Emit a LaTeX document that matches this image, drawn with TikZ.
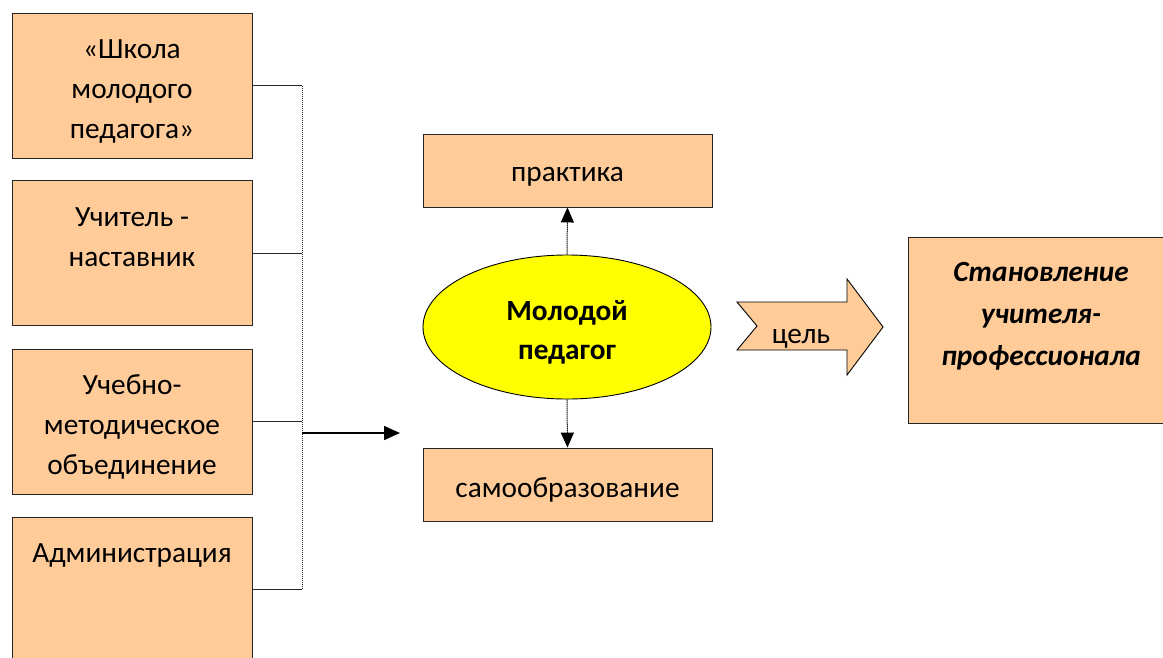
\documentclass[tikz,border=0pt]{standalone}
\usepackage{fontspec}
\setmainfont{Carlito}
\usetikzlibrary{arrows.meta,shapes.geometric,calc}
\definecolor{peach}{HTML}{FFCC99}
\definecolor{yel}{HTML}{FFFF00}
\tikzset{
  box/.style={draw=black!85, line width=0.9pt, fill=peach, rectangle, inner sep=0pt},
  txt/.style={inner sep=0pt, align=center, anchor=north, font=\fontsize{29.3}{40}\selectfont},
  conn/.style={draw=black!85, line width=1pt, dash pattern=on 1.5pt off 0.5pt},
  smallarrow/.style={draw=black!85, line width=1pt, dash pattern=on 1.5pt off 0.5pt, -{Triangle[width=13pt,length=15pt,color=black]}},
  mainarrow/.style={draw=black, line width=1.6pt, -{Triangle[width=14pt,length=16pt]}}
}
\newcommand{\fl}{\rule{0pt}{20pt}}
\begin{document}
\begin{tikzpicture}[x=1pt,y=-1pt]
\useasboundingbox (0,0) rectangle (1163,657);
% left boxes
\node[box, minimum width=240pt, minimum height=145pt] (b1) at (132,85.5) {};
\node[box, minimum width=240pt, minimum height=145pt] (b2) at (132,253) {};
\node[box, minimum width=240pt, minimum height=145pt] (b3) at (132,421.5) {};
\node[box, minimum width=240pt, minimum height=145pt] (b4) at (132,589.5) {};
\node[txt] (t1) at ($(b1.north)+(0,26)$) {\fl«Школа\\молодого\\педагога»};
\node[txt] (t2) at ($(b2.north)+(0,26)$) {\fl Учитель -\\наставник};
\node[txt] (t3) at ($(b3.north)+(0,26)$) {\fl Учебно-\\методическое\\объединение};
\node[txt] (t4) at ($(b4.north)+(0,26)$) {\fl Администрация};
% bus
\coordinate (bustop) at (302,85.5);
\coordinate (busbot) at (302,589.5);
\draw[conn] (b1.east) -- (bustop) -- (busbot) -- (b4.east);
\draw[conn] (b2.east) -- (b2.east -| bustop);
\draw[conn] (b3.east) -- (b3.east -| bustop);
\coordinate (arrstart) at (302,433);
\coordinate (arrend) at (400,433);
\draw[mainarrow] (arrstart) -- (arrend);
% centre
\node[box, minimum width=289pt, minimum height=73pt] (prak) at (567.5,170.5) {};
\node[txt, anchor=base] (prakt) at (567.5,181) {практика};
\node[box, minimum width=289pt, minimum height=73pt] (samo) at (567.5,484.5) {};
\node[txt, anchor=base] (samot) at (567.5,497) {самообразование};
\node[ellipse, draw=black, line width=0.9pt, fill=yel, minimum width=288pt, minimum height=144pt, inner sep=0pt] (ped) at (567,327) {};
\node[txt, font=\fontsize{29.3}{39}\selectfont\bfseries] (pedt) at (567,300) {\fl Молодой\\педагог};
\draw[smallarrow] (ped.north) -- (prak.south);
\draw[smallarrow] (ped.south) -- (samo.north);
% goal arrow
\draw[draw=black, line width=0.9pt, fill=peach, line join=miter] (737,302) -- (847,302) -- (847,279) -- (883,327) -- (847,375) -- (847,350) -- (737,350) -- (757,326) -- cycle;
\node[txt, anchor=base] (goal) at (801,343) {цель};
% right box
\node[box, minimum width=266pt, minimum height=186pt] (res) at (1041,330) {};
\node[txt, font=\fontsize{29.3}{42}\selectfont\bfseries\itshape] (rest) at ($(res.north)+(0,25)$) {\fl Становление\\учителя-\\профессионала};
\end{tikzpicture}
\end{document}
